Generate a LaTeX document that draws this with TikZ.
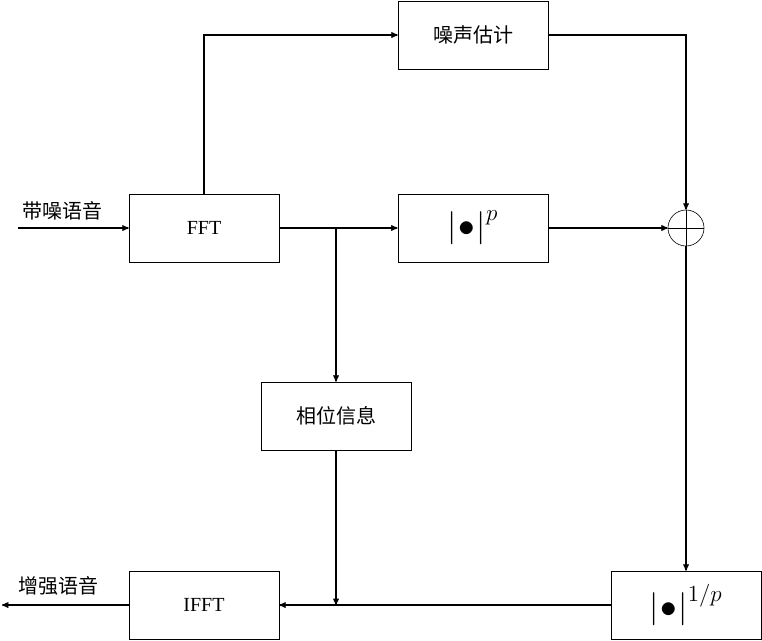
\documentclass[tikz,border=0pt]{standalone}
\usepackage{fontspec}
\setmainfont{Liberation Serif}
\newfontfamily\cjk{Noto Sans CJK SC}
\usetikzlibrary{positioning}
\usetikzlibrary{arrows}

\begin{document}
\begin{tikzpicture}[->,>=stealth',x=1pt,y=-1pt,line width=1.3pt,
                    block/.style={draw,line width=0.6pt,minimum width=150pt,minimum height=68pt,font=\fontsize{20}{24}\selectfont},
                    mag/.style={block,scale=1.6,transform shape,minimum width=94pt,minimum height=42.5pt,line width=0.375pt},
                    lbl/.style={font=\cjk\fontsize{20}{24}\selectfont}]
    \useasboundingbox (0,0) rectangle (762,640);

    \node[block,font=\cjk\fontsize{20}{24}\selectfont] (noise) at (473,35) {噪声估计};
    \node[block] (fft) at (204,228) {FFT};
    \node[mag] (pow) at (473,228) {$\Bigl|\hspace{1pt}\bullet\hspace{1pt}\Bigr|^{p}$};
    \node[draw,line width=0.6pt,circle,minimum size=36pt,inner sep=0] (sum) at (686,228) {};
    \draw[-,line width=0.6pt] (sum.north) -- (sum.south) (sum.west) -- (sum.east);
    \node[block,font=\cjk\fontsize{20}{24}\selectfont] (phase) at (336,416) {相位信息};
    \node[block] (ifft) at (204,605) {IFFT};
    \node[mag] (inv) at (686,605) {$\Bigl|\hspace{1pt}\bullet\hspace{1pt}\Bigr|^{1/p}$};

    \coordinate (in) at (18,228);
    \coordinate (out) at (2,605);
    \coordinate (split) at (336,228);
    \coordinate (join) at (336,605);

    \node[lbl] (inlbl) at (62,211) {带噪语音};
    \node[lbl] (outlbl) at (58,586) {增强语音};

    \draw (in) -- (fft);
    \draw (fft.north) |- (noise.west);
    \draw (noise.east) -| (sum.north);
    \draw (fft.east) -- (pow.west);
    \draw (split) -- (phase.north);
    \draw (pow.east) -- (sum.west);
    \draw (sum.south) -- (inv.north);
    \draw (inv.west) -- (ifft.east);
    \draw (phase.south) -- (join);
    \draw (ifft.west) -- (out);
\end{tikzpicture}
\end{document}
